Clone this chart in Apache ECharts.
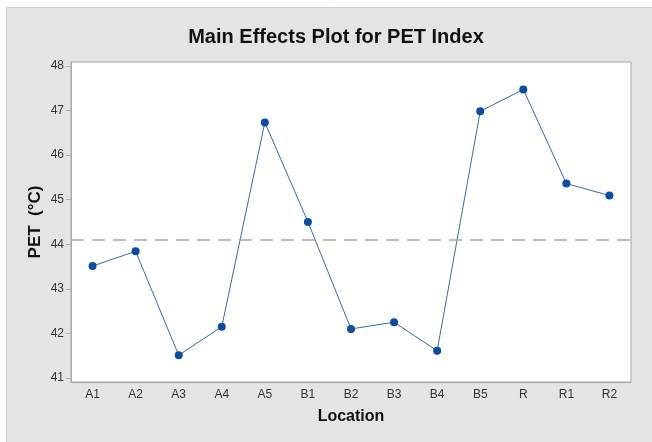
<!DOCTYPE html>
<html>
<head>
<meta charset="utf-8">
<script src="https://cdn.jsdelivr.net/npm/echarts@6/dist/echarts.min.js"></script>
<style>
  html, body { margin: 0; padding: 0; background: #fff; }
  #chart { width: 652px; height: 442px; }
</style>
</head>
<body>
<div id="chart"></div>
<script>
// location categories and PET means
const locations = ['A1', 'A2', 'A3', 'A4', 'A5', 'B1', 'B2', 'B3', 'B4', 'B5', 'R', 'R1', 'R2']
const petMeans = [43.51, 43.84, 41.51, 42.15, 46.73, 44.5, 42.1, 42.25, 41.61, 46.98, 47.47, 45.36, 45.09]
const grandMean = 44.09
const yTicks = [41, 42, 43, 44, 45, 46, 47, 48]

const chart = echarts.init(document.getElementById('chart'))
const font = 'Liberation Sans, Arial, sans-serif'

chart.setOption({
  backgroundColor: '#fff',
  animation: false,
  graphic: [{
    type: 'rect',
    z: -10,
    shape: { x: 6.5, y: 7.5, width: 660, height: 440 },
    style: { fill: '#e4e4e4', stroke: '#d2d2d2', lineWidth: 1 }
  }],
  title: {
    text: 'Main Effects Plot for PET Index',
    left: 331,
    top: 22,
    textAlign: 'center',
    textStyle: { fontFamily: font, fontSize: 20, fontWeight: 'bold', color: '#111' }
  },
  grid: {
    left: 71, top: 62, right: 21, bottom: 60,
    show: true,
    backgroundColor: '#fff',
    borderColor: '#a8a8a8',
    borderWidth: 1
  },
  xAxis: {
    type: 'category',
    data: locations,
    boundaryGap: true,
    name: 'Location',
    nameLocation: 'middle',
    nameGap: 27,
    nameMoveOverlap: false,
    nameTextStyle: { fontFamily: font, fontSize: 16, fontWeight: 'bold', color: '#111' },
    axisLine: { lineStyle: { color: '#a8a8a8' } },
    axisTick: { alignWithLabel: true, length: 5, lineStyle: { color: '#b0b0b0' } },
    axisLabel: { fontFamily: font, fontSize: 12, color: '#333', margin: 7 },
    splitLine: { show: false }
  },
  yAxis: {
    type: 'value',
    min: 40.91,
    max: 48.085,
    name: 'PET  (°C)',
    nameLocation: 'middle',
    nameGap: 27,
    nameMoveOverlap: false,
    nameTextStyle: { fontFamily: font, fontSize: 17, fontWeight: 'bold', color: '#111' },
    axisLine: { show: true, lineStyle: { color: '#a8a8a8' } },
    axisTick: { show: true, length: 5, customValues: yTicks, lineStyle: { color: '#b0b0b0' } },
    axisLabel: { fontFamily: font, fontSize: 12, color: '#333', margin: 7, customValues: yTicks },
    splitLine: { show: false }
  },
  series: [{
    type: 'line',
    data: petMeans,
    symbol: 'circle',
    symbolSize: 8,
    itemStyle: { color: '#0b4d9e' },
    lineStyle: { color: '#3a6aa3', width: 1 },
    markLine: {
      silent: true,
      symbol: 'none',
      label: { show: false },
      lineStyle: { color: '#a6a6a6', type: [13, 8], width: 1.5 },
      data: [{ yAxis: grandMean }]
    }
  }]
})
</script>
</body>
</html>
